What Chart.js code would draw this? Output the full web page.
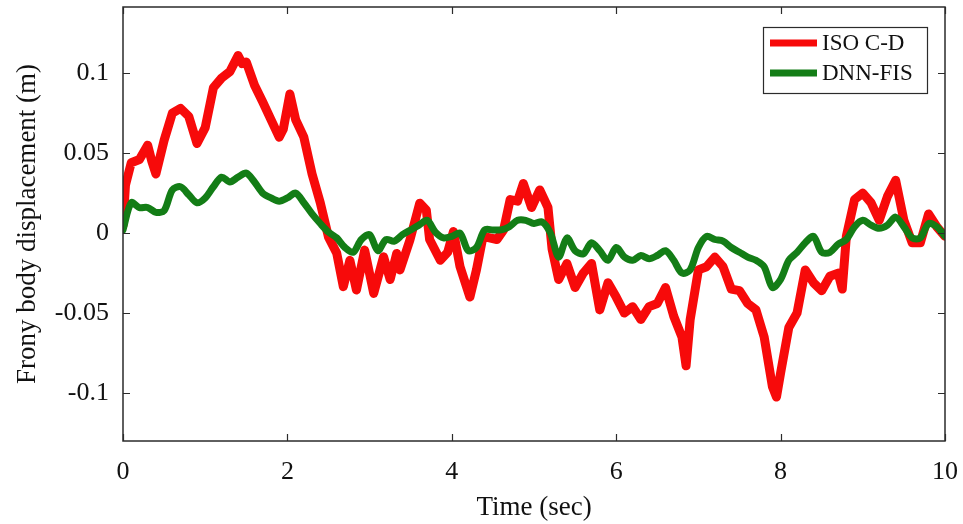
<!DOCTYPE html>
<html>
<head>
<meta charset="utf-8">
<script src="https://cdn.jsdelivr.net/npm/chart.js@4.4.1/dist/chart.umd.min.js"></script>
<style>
  body { margin: 0; background: #fff; }
  canvas { display: block; }
</style>
</head>
<body>
<canvas id="chart" width="963" height="524"></canvas>
<script>
// values
const xTicks = [0, 2, 4, 6, 8, 10];
const yTicks = [-0.1, -0.05, 0, 0.05, 0.1];

const isoTime = [0, 0.03, 0.1, 0.2, 0.3, 0.35, 0.4, 0.5, 0.6, 0.7, 0.8, 0.9, 1.0, 1.1, 1.2, 1.3, 1.4, 1.45, 1.5, 1.6, 1.7, 1.8, 1.9, 1.95, 2.03, 2.1, 2.2, 2.3, 2.4, 2.5, 2.6, 2.68, 2.76, 2.84, 2.94, 3.05, 3.17, 3.25, 3.33, 3.37, 3.49, 3.61, 3.69, 3.73, 3.86, 3.95, 4.02, 4.1, 4.22, 4.3, 4.38, 4.55, 4.63, 4.71, 4.8, 4.87, 4.97, 5.07, 5.17, 5.22, 5.3, 5.4, 5.5, 5.6, 5.7, 5.8, 5.9, 6.0, 6.1, 6.2, 6.3, 6.4, 6.5, 6.6, 6.7, 6.8, 6.85, 6.9, 7.0, 7.1, 7.2, 7.3, 7.4, 7.5, 7.6, 7.7, 7.8, 7.9, 7.95, 8.0, 8.1, 8.2, 8.3, 8.4, 8.5, 8.6, 8.7, 8.75, 8.8, 8.9, 9.0, 9.1, 9.2, 9.3, 9.4, 9.5, 9.6, 9.7, 9.8, 9.9, 10];
const isoDisp = [0.005, 0.03, 0.044, 0.046, 0.055, 0.045, 0.037, 0.058, 0.075, 0.078, 0.073, 0.056, 0.066, 0.091, 0.097, 0.101, 0.111, 0.106, 0.107, 0.0925, 0.082, 0.071, 0.060, 0.065, 0.087, 0.071, 0.060, 0.037, 0.019, -0.0025, -0.0125, -0.0335, -0.017, -0.0356, -0.0106, -0.0377, -0.0148, -0.029, -0.0127, -0.023, -0.0044, 0.0187, 0.0144, -0.004, -0.017, -0.012, 0.001, -0.021, -0.040, -0.023, -0.002, -0.004, 0.002, 0.021, 0.020, 0.031, 0.016, 0.027, 0.016, -0.010, -0.029, -0.019, -0.034, -0.025, -0.019, -0.048, -0.031, -0.040, -0.050, -0.046, -0.054, -0.046, -0.044, -0.034, -0.052, -0.065, -0.083, -0.054, -0.023, -0.021, -0.015, -0.021, -0.035, -0.036, -0.044, -0.048, -0.065, -0.096, -0.1025, -0.0875, -0.059, -0.050, -0.023, -0.031, -0.036, -0.027, -0.025, -0.035, -0.002, 0.021, 0.025, 0.019, 0.008, 0.023, 0.033, 0.008, -0.006, -0.006, 0.012, 0.004, -0.002];

const dnnTime = [0, 0.1, 0.2, 0.3, 0.4, 0.5, 0.6, 0.7, 0.8, 0.9, 1.0, 1.1, 1.2, 1.3, 1.4, 1.5, 1.6, 1.7, 1.8, 1.9, 2.0, 2.1, 2.2, 2.3, 2.4, 2.5, 2.6, 2.7, 2.8, 2.9, 3.0, 3.1, 3.2, 3.3, 3.4, 3.5, 3.6, 3.7, 3.8, 3.9, 4.0, 4.1, 4.2, 4.3, 4.4, 4.5, 4.6, 4.7, 4.8, 4.9, 5.0, 5.1, 5.2, 5.3, 5.4, 5.5, 5.6, 5.7, 5.8, 5.9, 6.0, 6.1, 6.2, 6.3, 6.4, 6.5, 6.6, 6.7, 6.8, 6.9, 7.0, 7.1, 7.2, 7.3, 7.4, 7.5, 7.6, 7.7, 7.8, 7.9, 8.0, 8.1, 8.2, 8.3, 8.4, 8.5, 8.6, 8.7, 8.8, 8.9, 9.0, 9.1, 9.2, 9.3, 9.4, 9.5, 9.6, 9.7, 9.8, 9.9, 10];
const dnnDisp = [0.002, 0.019, 0.016, 0.016, 0.013, 0.014, 0.027, 0.029, 0.024, 0.019, 0.022, 0.029, 0.035, 0.032, 0.035, 0.0375, 0.032, 0.025, 0.022, 0.020, 0.022, 0.025, 0.019, 0.012, 0.006, 0.0006, -0.003, -0.009, -0.012, -0.004, -0.001, -0.011, -0.004, -0.005, -0.001, 0.002, 0.005, 0.008, 0.0006, -0.003, -0.002, 0, -0.011, -0.009, 0.002, 0.002, 0.002, 0.004, 0.008, 0.008, 0.006, 0.007, 0, -0.015, -0.003, -0.011, -0.013, -0.006, -0.011, -0.017, -0.009, -0.015, -0.017, -0.014, -0.016, -0.014, -0.011, -0.017, -0.025, -0.023, -0.009, -0.002, -0.004, -0.005, -0.009, -0.012, -0.015, -0.017, -0.021, -0.034, -0.029, -0.017, -0.012, -0.006, -0.002, -0.012, -0.012, -0.007, -0.004, 0.004, 0.008, 0.005, 0.003, 0.005, 0.010, 0.004, -0.003, -0.003, 0.006, 0.004, -0.002];

const seriesNames = ['ISO C-D', 'DNN-FIS'];
const fontFamily = '"Liberation Serif", "Times New Roman", serif';
const frameColor = '#2b2b2b';

// box round the plot with ticks pointing inwards
const boxAxes = {
    id: 'boxAxes',
    afterDraw(chart) {
        const ctx = chart.ctx;
        const a = chart.chartArea;
        const xs = chart.scales.x, ys = chart.scales.y;
        const len = 7;
        ctx.save();
        ctx.strokeStyle = frameColor;
        ctx.lineWidth = 1.5;
        ctx.strokeRect(a.left, a.top, a.right - a.left, a.bottom - a.top);
        ctx.lineWidth = 1.2;
        ctx.beginPath();
        xTicks.forEach(v => {
            const px = Math.round(xs.getPixelForValue(v)) + 0.5;
            ctx.moveTo(px, a.bottom); ctx.lineTo(px, a.bottom - len);
            ctx.moveTo(px, a.top); ctx.lineTo(px, a.top + len);
        });
        yTicks.forEach(v => {
            const py = Math.round(ys.getPixelForValue(v)) + 0.5;
            ctx.moveTo(a.left, py); ctx.lineTo(a.left + len, py);
            ctx.moveTo(a.right, py); ctx.lineTo(a.right - len, py);
        });
        ctx.stroke();
        ctx.restore();
    }
};

// legend box in the upper right corner
const boxLegend = {
    id: 'boxLegend',
    afterDraw(chart) {
        const ctx = chart.ctx;
        const a = chart.chartArea;
        const w = 164, h = 66;
        const x0 = a.right - 18 - w, y0 = a.top + 20;
        ctx.save();
        ctx.fillStyle = '#fff';
        ctx.fillRect(x0, y0, w, h);
        ctx.strokeStyle = frameColor;
        ctx.lineWidth = 1.2;
        ctx.strokeRect(x0 + 0.5, y0 + 0.5, w, h);
        ctx.font = '23px ' + fontFamily;
        ctx.textBaseline = 'middle';
        chart.data.datasets.forEach((ds, i) => {
            const yy = y0 + 16 + i * 30;
            ctx.strokeStyle = ds.borderColor;
            ctx.lineWidth = 7;
            ctx.beginPath();
            ctx.moveTo(x0 + 7, yy);
            ctx.lineTo(x0 + 54, yy);
            ctx.stroke();
            ctx.fillStyle = '#111';
            ctx.fillText(ds.label, x0 + 59, yy + 1);
        });
        ctx.restore();
    }
};

const toPoints = (ts, vs) => ts.map((t, i) => ({ x: t, y: vs[i] }));

new Chart(document.getElementById('chart'), {
    type: 'line',
    data: {
        datasets: [
            {
                label: seriesNames[0],
                data: toPoints(isoTime, isoDisp),
                borderColor: '#f70a0a',
                borderWidth: 9,
                pointRadius: 0,
                tension: 0,
                borderJoinStyle: 'round',
                borderCapStyle: 'round',
                order: 2
            },
            {
                label: seriesNames[1],
                data: toPoints(dnnTime, dnnDisp),
                borderColor: '#137d16',
                borderWidth: 7,
                pointRadius: 0,
                tension: 0.3,
                borderJoinStyle: 'round',
                borderCapStyle: 'round',
                order: 1
            }
        ]
    },
    options: {
        responsive: false,
        animation: false,
        events: [],
        layout: { padding: { top: 7, right: 18, left: 0, bottom: 0 } },
        plugins: {
            legend: { display: false },
            tooltip: { enabled: false }
        },
        scales: {
            x: {
                type: 'linear',
                min: 0,
                max: 10,
                grid: { display: false, drawTicks: false },
                border: { display: false },
                afterBuildTicks: scale => { scale.ticks = xTicks.map(v => ({ value: v })); },
                afterFit: scale => {
                    scale.height = 83;
                    scale.paddingLeft = 0;
                    scale.paddingRight = 0;
                },
                ticks: {
                    color: '#111',
                    padding: 16,
                    maxRotation: 0,
                    font: { family: fontFamily, size: 26 },
                    callback: v => String(v)
                },
                title: {
                    display: true,
                    text: 'Time (sec)',
                    color: '#111',
                    font: { family: fontFamily, size: 27 },
                    padding: { top: 0, bottom: 0 }
                }
            },
            y: {
                min: -0.13,
                max: 0.1414,
                grid: { display: false, drawTicks: false },
                border: { display: false },
                afterBuildTicks: scale => { scale.ticks = yTicks.map(v => ({ value: v })); },
                afterFit: scale => {
                    scale.width = 123;
                    scale.paddingTop = 0;
                    scale.paddingBottom = 0;
                },
                ticks: {
                    color: '#111',
                    padding: 14,
                    font: { family: fontFamily, size: 26 },
                    callback: v => String(v)
                },
                title: {
                    display: true,
                    text: 'Frony body displacement (m)',
                    color: '#111',
                    font: { family: fontFamily, size: 27 },
                    padding: { top: 12, bottom: 0 }
                }
            }
        }
    },
    plugins: [boxAxes, boxLegend]
});
</script>
</body>
</html>
